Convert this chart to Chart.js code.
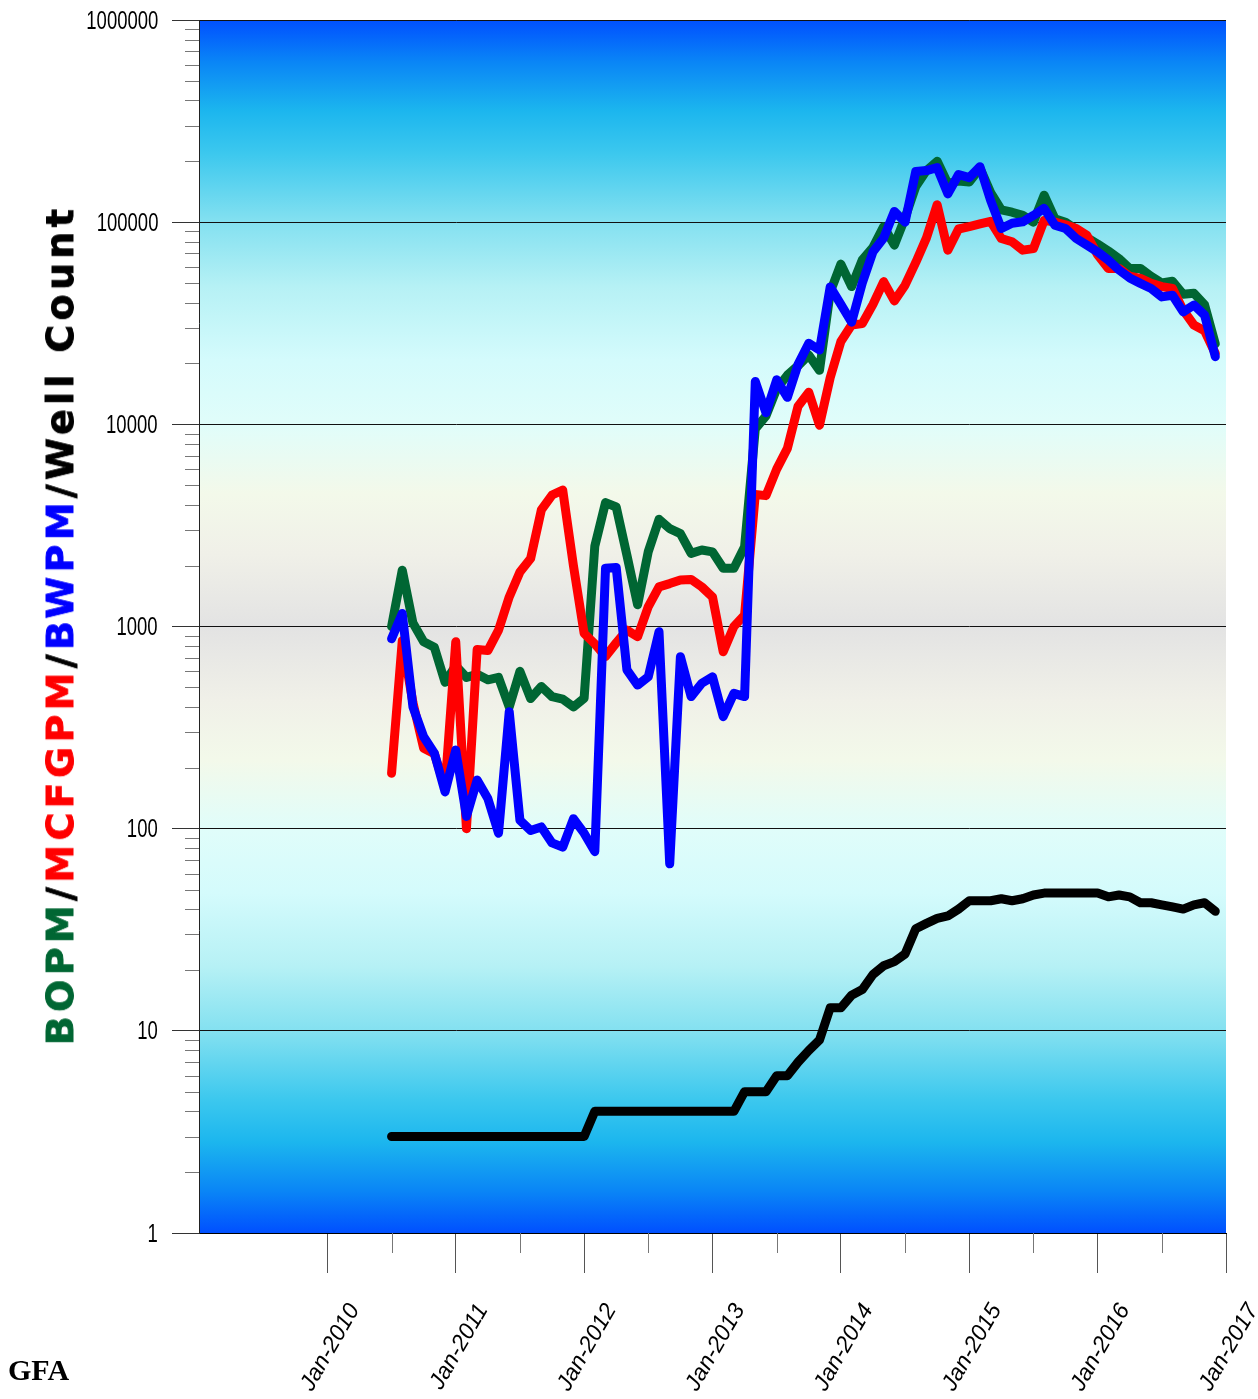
<!DOCTYPE html>
<html><head><meta charset="utf-8">
<script src="https://cdn.jsdelivr.net/npm/chart.js@4.4.0/dist/chart.umd.min.js"></script>
<style>
html,body{margin:0;padding:0;background:#fff;}
#wrap{position:relative;width:1258px;height:1399px;overflow:hidden;}
canvas{position:absolute;left:0;top:0;}
#ytitle{position:absolute;left:60px;top:625px;transform:translate(-50%,-50%) rotate(-90deg);white-space:nowrap;font-family:'DejaVu Sans',sans-serif;font-weight:bold;font-size:38px;line-height:1;color:#000;-webkit-text-stroke:0.8px currentColor;}
#gfa{position:absolute;left:8px;top:1355px;font-family:'Liberation Serif',serif;font-weight:bold;font-size:30px;line-height:1;color:#000;}
.ylab{position:absolute;font-family:'Liberation Sans',Arial,sans-serif;font-size:25px;line-height:25px;height:25px;color:#000;white-space:nowrap;transform-origin:100% 50%;}
</style></head>
<body><div id="wrap"><canvas id="c" width="1258" height="1399"></canvas>
<div id="ytitle"><span style="color:#006633">BOPM</span><span>/</span><span style="color:#ff0000">MCFGPM</span><span>/</span><span style="color:#0000ff">BWPM</span><span>/</span><span>Well Count</span></div>
<div id="gfa">GFA</div></div>
<script>
const months = ['2010-07','2010-08','2010-09','2010-10','2010-11','2010-12',
'2011-01','2011-02','2011-03','2011-04','2011-05','2011-06','2011-07','2011-08','2011-09','2011-10','2011-11','2011-12',
'2012-01','2012-02','2012-03','2012-04','2012-05','2012-06','2012-07','2012-08','2012-09','2012-10','2012-11','2012-12',
'2013-01','2013-02','2013-03','2013-04','2013-05','2013-06','2013-07','2013-08','2013-09','2013-10','2013-11','2013-12',
'2014-01','2014-02','2014-03','2014-04','2014-05','2014-06','2014-07','2014-08','2014-09','2014-10','2014-11','2014-12',
'2015-01','2015-02','2015-03','2015-04','2015-05','2015-06','2015-07','2015-08','2015-09','2015-10','2015-11','2015-12',
'2016-01','2016-02','2016-03','2016-04','2016-05','2016-06','2016-07','2016-08','2016-09','2016-10','2016-11','2016-12'];

const bopm = [1000,1900,1040,840,790,530,640,560,580,545,
560,400,600,440,505,450,437,400,442,2500,
4100,3900,2250,1280,2350,3390,3050,2880,2300,2390,
2340,1940,1940,2480,9500,11000,15000,17500,19500,22000,
18500,45000,62000,48000,65000,75000,95000,77000,105000,150000,
180000,200000,155000,160000,158000,185000,140000,115000,112000,108000,
100000,136000,104000,100000,92000,84000,78000,72000,66000,59000,
59000,54000,50000,51000,44000,44500,39000,25000];

const mcfgpm = [188,850,420,250,235,160,840,100,770,760,
960,1400,1860,2170,3770,4470,4730,2000,925,820,
710,830,960,890,1255,1570,1630,1700,1710,1570,
1400,750,1000,1140,4500,4440,6000,7600,12300,14400,
9900,17000,25700,31000,31500,39200,50800,40800,48800,63200,
83600,122000,72700,92500,95000,98000,101000,83000,80000,72700,
74000,102000,100000,97000,93000,86000,69000,59000,59000,54000,
52700,49800,48000,47000,36700,31000,29000,22400];

const bwpm = [870,1160,400,285,236,152,245,115,174,141,
95,379,110,98,102,85,81,112,95,77,
1940,1960,610,513,564,942,67,709,450,524,
564,358,467,450,16300,11400,16600,13600,19800,25200,
23300,47800,39200,32000,50000,71300,83500,113000,100000,178000,
180000,186000,138000,172000,166000,188000,128000,93000,98700,100400,
108000,117000,96600,93000,83000,77000,71300,64900,58000,53000,
49800,47000,42700,43500,36000,38900,34700,21600];

const wellCount = [3,3,3,3,3,3,3,3,3,3,
3,3,3,3,3,3,3,3,3,4,
4,4,4,4,4,4,4,4,4,4,
4,4,4,5,5,5,6,6,7,8,
9,13,13,15,16,19,21,22,24,32,
34,36,37,40,44,44,44,45,44,45,
47,48,48,48,48,48,48,46,47,46,
43,43,42,41,40,42,43,39];

const yTickValues = [1,10,100,1000,10000,100000,1000000];
const xTickLabels = ['Jan-2010','Jan-2011','Jan-2012','Jan-2013','Jan-2014','Jan-2015','Jan-2016','Jan-2017'];

const BASE_YEAR = 2009;
const monthPos = s => { const p = s.split('-').map(Number); return (p[0]-BASE_YEAR)*12 + (p[1]-1); };
const labelPos = s => (Number(s.split('-')[1]) - BASE_YEAR) * 12;
const xTickPositions = xTickLabels.map(labelPos);
const xMin = 0, xMax = xTickPositions[xTickPositions.length-1];

const pts = arr => months.map((m,i) => ({x: monthPos(m), y: arr[i]}));

const bgPlugin = {
  id:'bg',
  beforeDraw(chart){
    const {ctx, chartArea:a} = chart;
    const g = ctx.createLinearGradient(0,a.top,0,a.bottom);
    const stops = [[0,'#0050ff'],[0.035,'#0a86f6'],[0.075,'#1cb6ee'],[0.11,'#3cc8ee'],[0.165,'#82e0f0'],[0.22,'#b6f1f5'],[0.28,'#d4fbfc'],[0.333,'#e0fdfa'],[0.39,'#f3f9ea'],[0.44,'#f0f0e8'],[0.5,'#e3e3e3']];
    stops.forEach(s=>g.addColorStop(s[0],s[1]));
    stops.slice().reverse().forEach(s=>{ if(s[0]<0.5) g.addColorStop(1-s[0],s[1]); });
    ctx.save(); ctx.fillStyle=g; ctx.fillRect(a.left,a.top,a.right-a.left,a.bottom-a.top); ctx.restore();
  },
  afterDraw(chart){
    const {ctx, chartArea:a, scales:{x,y}} = chart;
    ctx.save(); ctx.strokeStyle='#777'; ctx.lineWidth=1;
    ctx.beginPath();
    for(let i=0;i<yTickValues.length-1;i++){
      for(let k=2;k<=9;k++){
        const py=Math.round(y.getPixelForValue(yTickValues[i]*k))+0.5;
        ctx.moveTo(a.left-14,py); ctx.lineTo(a.left,py);
      }
    }
    for(let i=0;i<xTickPositions.length-1;i++){
      const px=Math.round(x.getPixelForValue((xTickPositions[i]+xTickPositions[i+1])/2))+0.5;
      ctx.moveTo(px,a.bottom); ctx.lineTo(px,a.bottom+20);
    }
    ctx.stroke(); ctx.restore();
  }
};

const common = {borderWidth:9, pointRadius:0, pointHoverRadius:0, fill:false, tension:0, borderCapStyle:'round', borderJoinStyle:'round'};

const chart = new Chart(document.getElementById('c'), {
  type:'line',
  data:{datasets:[
    Object.assign({label:'BWPM', data:pts(bwpm), borderColor:'#0000ff', order:1}, common),
    Object.assign({label:'MCFGPM', data:pts(mcfgpm), borderColor:'#ff0000', order:2}, common),
    Object.assign({label:'BOPM', data:pts(bopm), borderColor:'#006633', order:3}, common),
    Object.assign({label:'Well Count', data:pts(wellCount), borderColor:'#000000', order:4}, common)
  ]},
  options:{
    responsive:false, animation:false, devicePixelRatio:1,
    layout:{padding:{left:0,right:32,top:20,bottom:0}},
    plugins:{legend:{display:false}, tooltip:{enabled:false}},
    scales:{
      x:{type:'linear', min:xMin, max:xMax,
        afterBuildTicks:s=>{ s.ticks = xTickPositions.map(v=>({value:v})); },
        afterFit:s=>{ s.height=166; s.paddingLeft=0; s.paddingRight=0; },
        ticks:{autoSkip:false, minRotation:60, maxRotation:60, padding:26, labelOffset:27,
          callback:(v,i)=>xTickLabels[i],
          font:{family:"'Liberation Sans', Arial, sans-serif", style:'italic', size:23}, color:'#000'},
        grid:{drawOnChartArea:false, tickLength:40, tickColor:'#555', lineWidth:1},
        border:{display:true, color:'#000', width:1}
      },
      y:{type:'logarithmic', min:1, max:1000000,
        afterBuildTicks:s=>{ s.ticks = yTickValues.map(v=>({value:v})); },
        afterFit:s=>{ s.width=199; s.paddingTop=0; s.paddingBottom=0; },
        ticks:{display:false, autoSkip:false, callback:v=>String(v)},
        grid:{color:'#111', lineWidth:1, tickLength:27, tickColor:'#333'},
        border:{display:true, color:'#222', width:1}
      }
    }
  },
  plugins:[bgPlugin]
});

// y tick labels as condensed text, placed through the log scale
(function(){
  const wrap=document.getElementById('wrap');
  const ys=chart.scales.y;
  yTickValues.forEach(v=>{
    const d=document.createElement('div');
    d.className='ylab';
    d.textContent=String(v);
    wrap.appendChild(d);
    const py=ys.getPixelForValue(v);
    d.style.right=(1258-158)+'px';
    d.style.top=(py-12.5)+'px';
    d.style.transform='scaleX(0.74)';
  });
})();

// fit the axis title to its span in the reference
(function(){
  const t=document.getElementById('ytitle');
  const target=840, n=t.textContent.length;
  const w=t.offsetWidth;
  t.style.letterSpacing=((target-w)/n)+'px';
})();
</script>
</body></html>
